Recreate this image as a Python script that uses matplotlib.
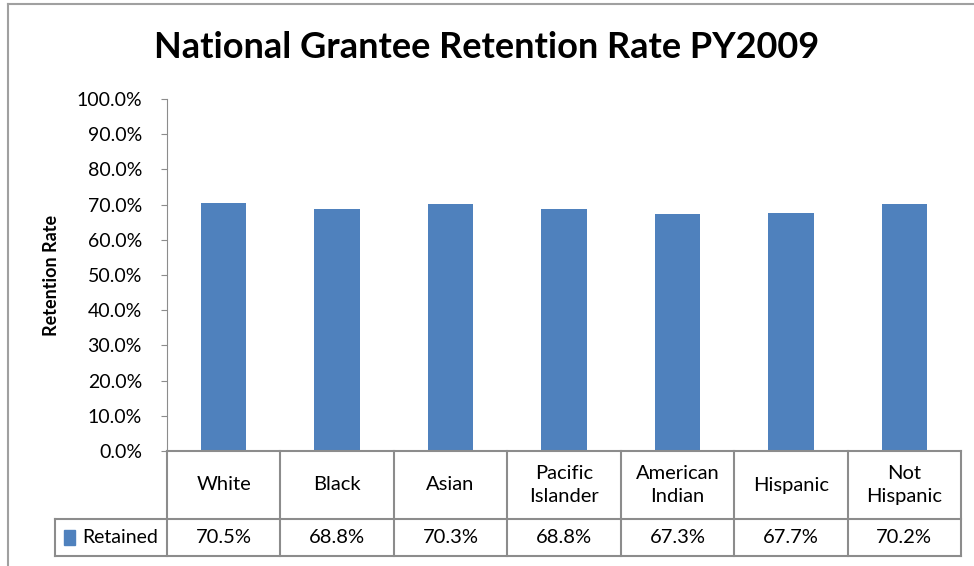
import matplotlib.pyplot as plt
from matplotlib.lines import Line2D
from matplotlib.patches import Rectangle
import matplotlib.transforms as mtransforms

# Data
categories = ["White", "Black", "Asian", "Pacific\nIslander", "American\nIndian", "Hispanic", "Not\nHispanic"]
retained = [70.5, 68.8, 70.3, 68.8, 67.3, 67.7, 70.2]
yticks = [0, 10, 20, 30, 40, 50, 60, 70, 80, 90, 100]

bar_color = "#4F81BD"
line_color = "#8C8C8C"
plt.rcParams["font.family"] = ["Lato", "DejaVu Sans"]

W, H = 974, 566
fig = plt.figure(figsize=(W / 100, H / 100), dpi=100)

# axes placement in pixels
x0, x1, ytop, ybot = 167, 961, 99, 451
ax = fig.add_axes([x0 / W, 1 - ybot / H, (x1 - x0) / W, (ybot - ytop) / H])

xs = list(range(len(categories)))
ax.bar(xs, retained, width=0.4, color=bar_color)
ax.set_xlim(-0.5, len(categories) - 0.5)
ax.set_ylim(0, 100)
ax.set_yticks(yticks)
ax.set_yticklabels([f"{v:.1f}%" for v in yticks], fontsize=14)
ax.set_xticks([])
for s in ["top", "right", "bottom"]:
    ax.spines[s].set_visible(False)
ax.spines["left"].set_color(line_color)
ax.tick_params(axis="y", length=4, color=line_color, pad=14)
ax.set_ylabel("Retention Rate", fontsize=13, fontweight="bold", labelpad=12)

# Title
fig.text(0.5, 1 - 47 / H, "National Grantee Retention Rate PY2009",
         ha="center", va="center", fontsize=26, fontweight="bold")

# Data table below the axes
trans = mtransforms.blended_transform_factory(ax.transData, ax.transAxes)
ph = ybot - ytop
r1 = -(519 - ybot) / ph
r2 = -(556 - ybot) / ph
col_w = (x1 - x0) / len(categories)
leg_left = -0.5 - (x0 - 55) / col_w
n = len(categories)

def hline(xa, xb, y):
    ax.add_line(Line2D([xa, xb], [y, y], transform=trans, color=line_color,
                       lw=1.5, clip_on=False))

def vline(x, ya, yb):
    ax.add_line(Line2D([x, x], [ya, yb], transform=trans, color=line_color,
                       lw=1.5, clip_on=False))

hline(-0.5, n - 0.5, 0)
hline(leg_left, n - 0.5, r1)
hline(leg_left, n - 0.5, r2)
for i in range(n + 1):
    vline(i - 0.5, 0, r2)
vline(leg_left, r1, r2)

for i, (c, v) in enumerate(zip(categories, retained)):
    ax.text(i, r1 / 2, c, transform=trans, ha="center", va="center",
            fontsize=14.5, linespacing=1.4, clip_on=False)
    ax.text(i, (r1 + r2) / 2, f"{v:.1f}%", transform=trans, ha="center",
            va="center", fontsize=14.5, clip_on=False)

# legend key in table
ax.add_patch(Rectangle((leg_left + 0.08, (r1 + r2) / 2 - 0.022), 0.1, 0.044,
                       transform=trans, color=bar_color, clip_on=False))
ax.text(leg_left + 0.24, (r1 + r2) / 2, "Retained", transform=trans,
        ha="left", va="center", fontsize=14, clip_on=False)

# outer chart border (top and left visible)
fig.add_artist(Line2D([8 / W, 1], [1 - 4 / H, 1 - 4 / H], color="#A0A0A0", lw=1.5))
fig.add_artist(Line2D([8 / W, 8 / W], [0, 1 - 4 / H], color="#A0A0A0", lw=1.5))

fig.savefig("out.png", dpi=100)
